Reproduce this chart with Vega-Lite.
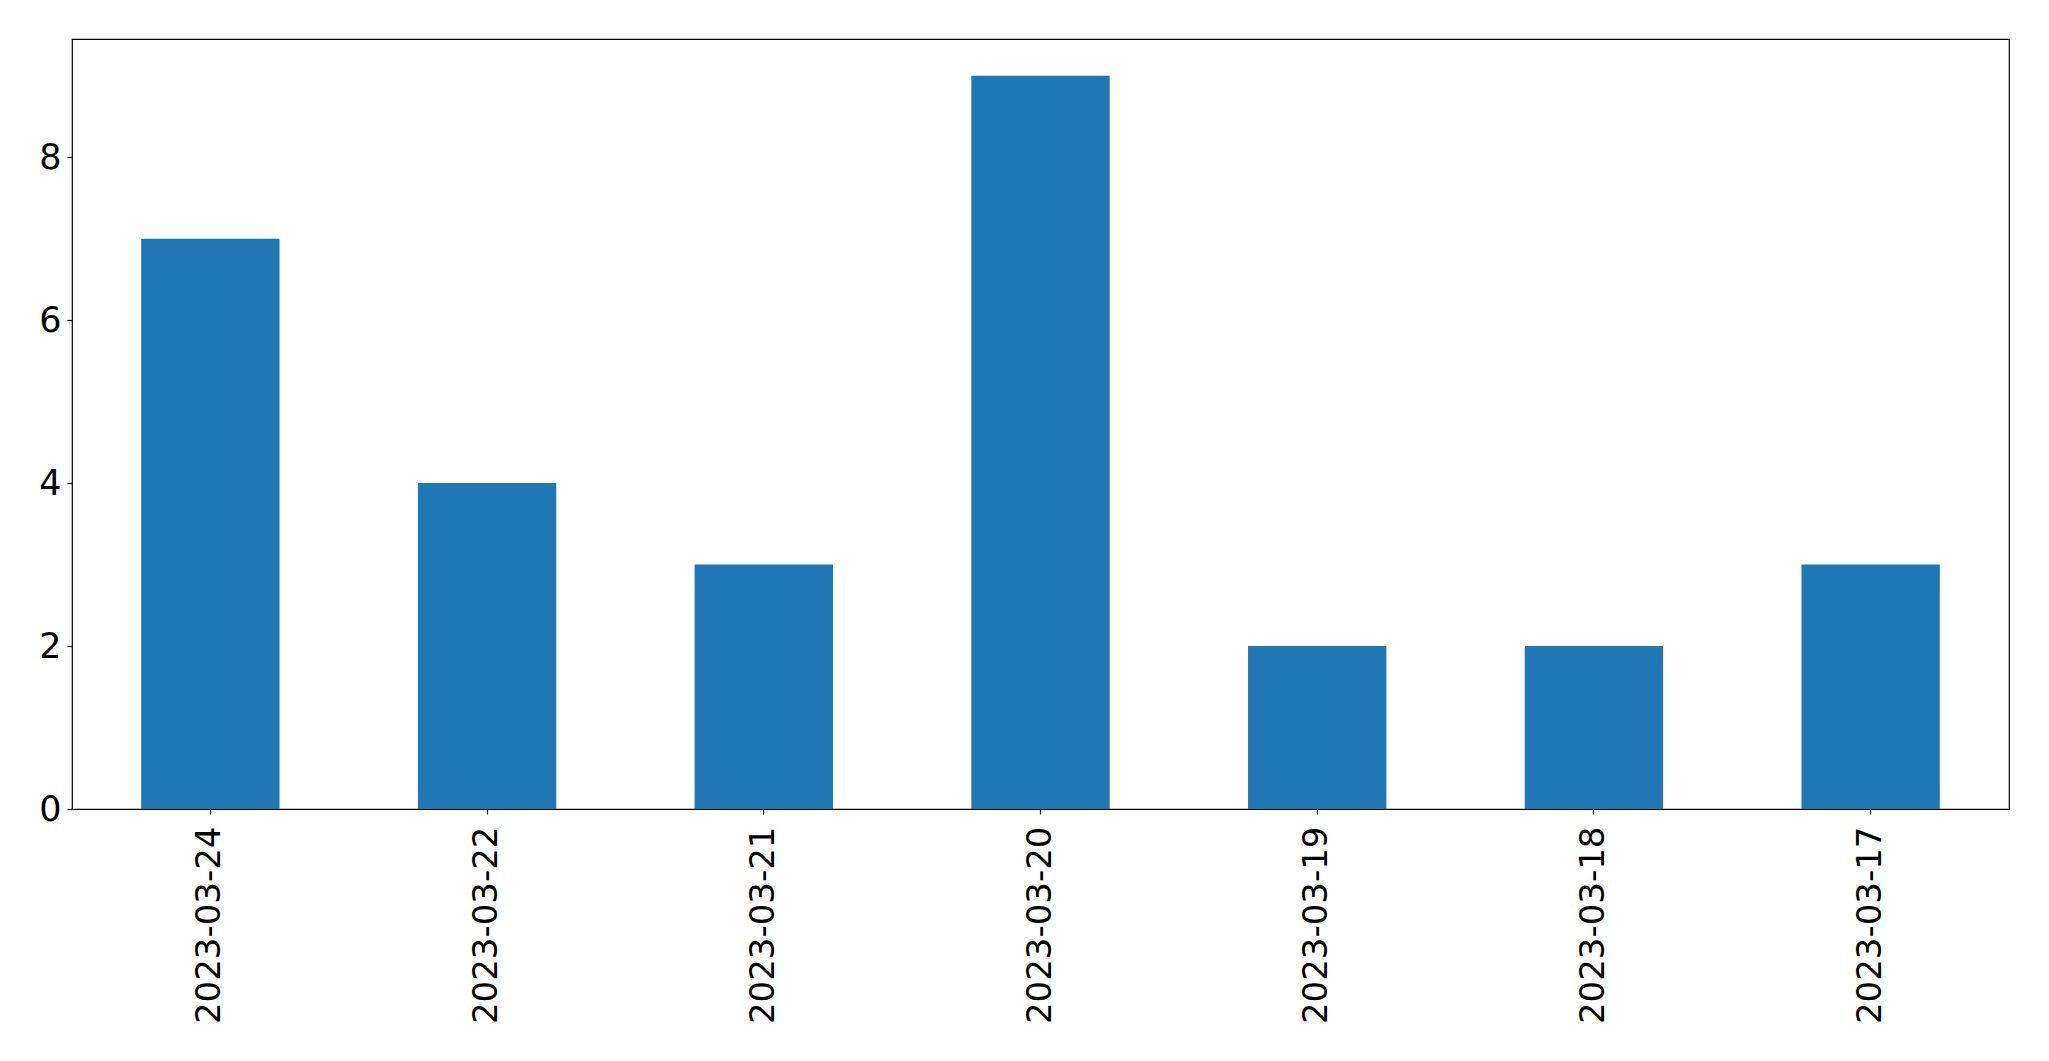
{
  "$schema": "https://vega.github.io/schema/vega-lite/v6.json",
  "width": 1937,
  "height": 770,
  "autosize": {"type": "none"},
  "padding": {"left": 72, "top": 39, "right": 40, "bottom": 252},
  "background": "white",
  "config": {
    "view": {"stroke": "black", "strokeWidth": 1.2},
    "font": "DejaVu Sans"
  },
  "data": {
    "values": [
      {"date": "2023-03-24", "count": 7},
      {"date": "2023-03-22", "count": 4},
      {"date": "2023-03-21", "count": 3},
      {"date": "2023-03-20", "count": 9},
      {"date": "2023-03-19", "count": 2},
      {"date": "2023-03-18", "count": 2},
      {"date": "2023-03-17", "count": 3}
    ]
  },
  "mark": {"type": "bar", "color": "#1f77b4"},
  "encoding": {
    "x": {
      "field": "date",
      "type": "ordinal",
      "sort": null,
      "scale": {"paddingInner": 0.5, "paddingOuter": 0.25},
      "axis": {
        "title": null,
        "labelAngle": 270,
        "labelFont": "DejaVu Sans",
        "labelFontSize": 34,
        "labelLimit": 0,
        "labelColor": "black",
        "labelPadding": 12,
        "tickColor": "black",
        "tickSize": 5,
        "tickWidth": 1.2,
        "domain": false
      }
    },
    "y": {
      "field": "count",
      "type": "quantitative",
      "scale": {"domain": [0, 9.45], "nice": false},
      "axis": {
        "title": null,
        "values": [0, 2, 4, 6, 8],
        "grid": false,
        "labelFont": "DejaVu Sans",
        "labelFontSize": 35,
        "labelColor": "black",
        "labelPadding": 6,
        "tickColor": "black",
        "tickSize": 5,
        "tickWidth": 1.2,
        "domain": false
      }
    }
  }
}
